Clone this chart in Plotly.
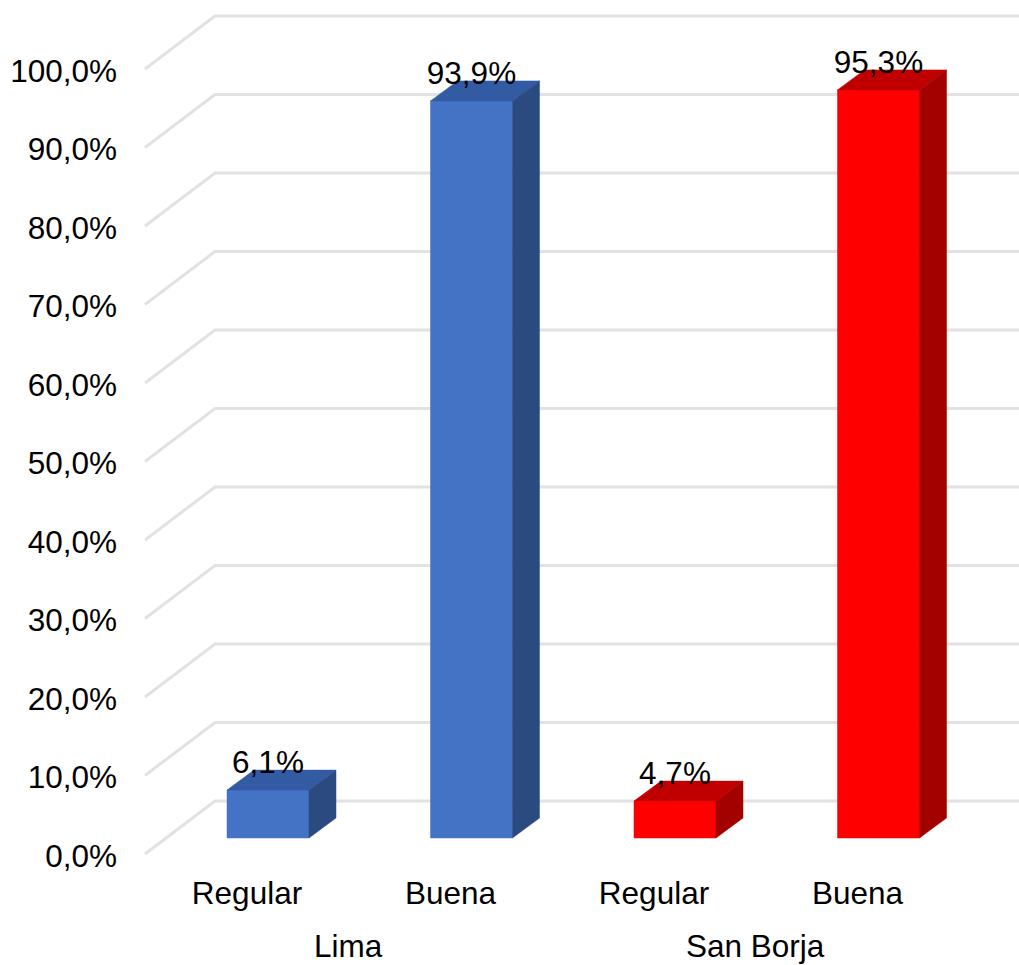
import plotly.graph_objects as go

# Survey results by district
categories = ["Regular", "Buena", "Regular", "Buena"]
values = [6.1, 93.9, 4.7, 95.3]
value_labels = ["6,1%", "93,9%", "4,7%", "95,3%"]
groups = ["Lima", "San Borja"]
y_ticks = [0, 10, 20, 30, 40, 50, 60, 70, 80, 90, 100]
y_tick_labels = ["0,0%", "10,0%", "20,0%", "30,0%", "40,0%", "50,0%",
                 "60,0%", "70,0%", "80,0%", "90,0%", "100,0%"]

FRONT = ["#4472C4", "#4472C4", "#FF0000", "#FF0000"]
TOP = ["#335BA3", "#335BA3", "#C00000", "#C00000"]
SIDE = ["#2B4A80", "#2B4A80", "#A30000", "#A30000"]
GRID = "#E2E2E2"
FONT_SIZE = 31.5

W, H = 1019, 965
PX_X = 203.5          # pixels per category step
PX_Y = 7.85           # pixels per percentage point
X0_PX = 268           # pixel of the first bar's centre
Y0_PX = 838           # pixel of the zero line on the bars' front face

x_range = [-X0_PX / PX_X, (W - X0_PX) / PX_X]
y_range = [-(H - Y0_PX) / PX_Y, Y0_PX / PX_Y]

half = 41 / PX_X      # half bar width
dx = 27 / PX_X        # bar depth, horizontal
dy = 20 / PX_Y        # bar depth, vertical

wall_left = -123 / PX_X
wall_right = -53 / PX_X
floor_front = -16 / PX_Y
floor_back = 37 / PX_Y
tick_shift = -17.5 / PX_Y  # tick labels sit slightly below the wall's front edge
label_lift = 9 / PX_Y      # gap between a bar's front edge and its value label


def polygon(xs, ys, color):
    return go.Scatter(x=xs, y=ys, mode="lines", fill="toself", fillcolor=color,
                      line=dict(color=color, width=0.5), hoverinfo="skip",
                      showlegend=False)


fig = go.Figure()

# Back wall and side wall gridlines
grid_x, grid_y = [], []
for t in y_ticks:
    grid_x += [wall_left, wall_right, x_range[1], None]
    grid_y += [t + floor_front, t + floor_back, t + floor_back, None]
fig.add_trace(go.Scatter(x=grid_x, y=grid_y, mode="lines",
                         line=dict(color=GRID, width=3),
                         hoverinfo="skip", showlegend=False))

# Extruded bars: front, top and side faces
for i, v in enumerate(values):
    l, r = i - half, i + half
    fig.add_trace(polygon([l, r, r, l, l], [0, 0, v, v, 0], FRONT[i]))
    fig.add_trace(polygon([l, r, r + dx, l + dx, l], [v, v, v + dy, v + dy, v], TOP[i]))
    fig.add_trace(polygon([r, r + dx, r + dx, r, r], [0, dy, v + dy, v, 0], SIDE[i]))

# Value labels sit just above the front of each bar
fig.add_trace(go.Scatter(x=list(range(4)), y=[v + label_lift for v in values],
                         mode="text", text=value_labels,
                         textposition="top center", cliponaxis=False,
                         textfont=dict(size=FONT_SIZE, color="#000000"),
                         hoverinfo="skip", showlegend=False))

# Invisible trace that brings the tick-label y axis into the figure
fig.add_trace(go.Scatter(x=[0], y=[0], yaxis="y2", mode="markers",
                         marker=dict(opacity=0), hoverinfo="skip", showlegend=False))

for name, centre in zip(groups, [0.5, 2.5]):
    fig.add_annotation(x=centre - 21 / PX_X, y=-(946 - Y0_PX) / PX_Y, text=name,
                       showarrow=False, font=dict(size=FONT_SIZE, color="#000000"),
                       xanchor="center", yanchor="middle")

axis_font = dict(size=FONT_SIZE, color="#000000")
fig.update_layout(
    width=W, height=H,
    margin=dict(l=0, r=0, t=0, b=0),
    paper_bgcolor="#FFFFFF", plot_bgcolor="#FFFFFF",
    font=dict(family="Liberation Sans, Arial, sans-serif"),
    xaxis=dict(range=x_range, domain=[0, 1], showgrid=False, zeroline=False,
               showline=False, ticks="",
               tickmode="array", tickvals=[i - 21 / PX_X for i in range(4)],
               ticktext=categories, tickfont=axis_font,
               anchor="free", position=(H - 871) / H),
    yaxis=dict(range=y_range, domain=[0, 1], visible=False),
    yaxis2=dict(range=[y_range[0] - tick_shift, y_range[1] - tick_shift],
                domain=[0, 1], overlaying="y", anchor="free", position=117 / W,
                side="left", showgrid=False, zeroline=False, showline=False, ticks="",
                tickmode="array", tickvals=y_ticks, ticktext=y_tick_labels,
                tickfont=axis_font),
)

fig.write_html("out.html", config=dict(displayModeBar=False))
